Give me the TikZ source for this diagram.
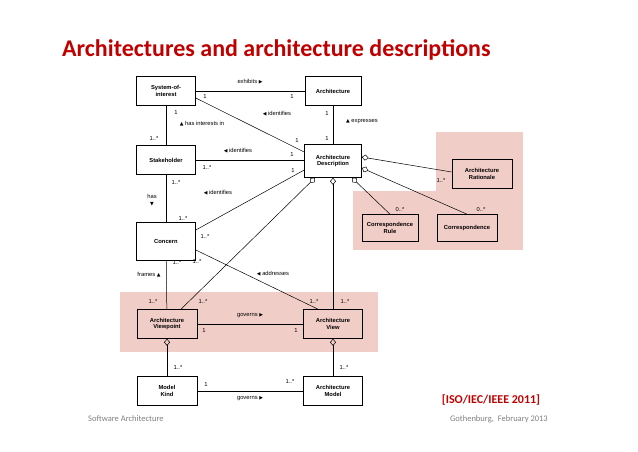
\documentclass[tikz,border=0pt]{standalone}
\usepackage{fontspec}
\setmainfont{Carlito}
\newfontfamily\diagfont{Liberation Sans}
\newfontfamily\symfont{DejaVu Sans}
\usetikzlibrary{arrows.meta}
\definecolor{slidered}{RGB}{192,0,0}
\definecolor{pinkband}{RGB}{241,205,200}
\newcommand{\tri}[1]{{\symfont\fontsize{4.8}{5}\selectfont #1}}

\begin{document}
\begin{tikzpicture}[x=1pt,y=-1pt,
    cls/.style={draw,fill=white,line width=0.6pt,minimum width=59pt,minimum height=29pt,
      align=center,font=\diagfont\bfseries\fontsize{5.8}{6.8}\selectfont,inner sep=1pt},
    pcls/.style={cls,fill=none},
    lbl/.style={font=\diagfont\fontsize{5.8}{6.8}\selectfont,inner sep=0pt},
    assoc/.style={line width=0.5pt},
    aggr/.style={line width=0.5pt,{Diamond[open,length=7pt,width=6pt]}-}]
  \useasboundingbox (0,0) rectangle (638,451);
  % pink areas
  \fill[pinkband] (120,292) rectangle (378,352);
  \fill[pinkband] (436,132) rectangle (523,250);
  \fill[pinkband] (353,191) rectangle (523,250);
  % title and footer
  \node[anchor=west,text=slidered,font=\bfseries\fontsize{24}{28}\selectfont,inner sep=0pt] (title) at (62,50) {Architectures and architecture descriptions};
  \node[text=slidered,font=\bfseries\fontsize{12}{14}\selectfont,inner sep=0pt] (ref) at (491,400) {[ISO/IEC/IEEE 2011]};
  \node[anchor=west,text=gray,font=\fontsize{8.5}{10}\selectfont,inner sep=0pt] (footl) at (88,419) {Software Architecture};
  \node[anchor=east,text=gray,font=\fontsize{8.5}{10}\selectfont,inner sep=0pt] (footr) at (548,419) {Gothenburg,\ \ February 2013};
  % classes
  \node[cls] (soi) at (166,91) {System-of-\\interest};
  \node[cls,minimum width=56pt] (arch) at (333,91) {Architecture};
  \node[cls] (stake) at (166,160) {Stakeholder};
  \node[cls,minimum width=57pt,minimum height=33pt] (ad) at (333,161) {Architecture\\Description};
  \node[cls,minimum height=38pt] (concern) at (166,241) {Concern};
  \node[pcls,minimum width=60pt] (vp) at (167,324) {Architecture\\Viewpoint};
  \node[pcls] (view) at (333,324) {Architecture\\View};
  \node[cls,minimum width=60pt] (mk) at (167,391) {Model\\Kind};
  \node[cls] (am) at (333,391) {Architecture\\Model};
  \node[pcls,minimum width=60pt] (rat) at (482,174) {Architecture\\Rationale};
  \node[pcls,minimum width=56pt,minimum height=27pt] (crule) at (390,228) {Correspondence\\Rule};
  \node[pcls,minimum width=60pt,minimum height=27pt] (corr) at (467,228) {Correspondence};
  % associations
  \draw[assoc] (soi.east) -- (arch.west);
  \draw[assoc] (soi.east |- 0,98) -- (ad.west |- 0,152);
  \draw[assoc] (arch) -- (ad);
  \draw[assoc] (soi) -- (stake);
  \draw[assoc] (stake) -- (ad.west |- stake);
  \draw[assoc] (stake) -- (concern);
  \draw[assoc] (concern.east |- 0,230) -- (ad.west |- 0,170);
  \draw[assoc] (concern.east |- 0,250) -- (view.north west -| 318,0);
  \draw[assoc] (concern) -- (vp);
  \draw[assoc] (vp) -- (view);
  \draw[assoc] (mk) -- (am);
  % aggregations
  \draw[aggr] (ad.south -| 315,0) -- (vp.north -| 181,0);
  \draw[aggr] (ad.south) -- (view.north);
  \draw[aggr] (ad.south -| 352,0) -- (crule.north);
  \draw[aggr] (ad.east |- 0,157) -- (rat.west |- 0,172);
  \draw[aggr] (ad.east |- 0,168) -- (corr.north);
  \draw[aggr] (vp) -- (mk);
  \draw[aggr] (view) -- (am);
  % labels
  \node[lbl] (l1) at (250,82) {exhibits \tri{▶}};
  \node[lbl] at (205,96) {1};
  \node[lbl] at (292,96) {1};
  \node[lbl] (l2) at (277,114) {\tri{◀} identifies};
  \node[lbl] at (297,140) {1};
  \node[lbl] at (327,113) {1};
  \node[lbl] at (327,138) {1};
  \node[lbl] (l3) at (362,122) {\tri{▲} expresses};
  \node[lbl] at (176,112) {1};
  \node[lbl] at (154,138) {1..*};
  \node[lbl] (l4) at (202,124) {\tri{▲} has interests in};
  \node[lbl] (l5) at (238,151) {\tri{◀} identifies};
  \node[lbl] at (207,167) {1..*};
  \node[lbl] at (292,154) {1};
  \node[lbl] at (176,182) {1..*};
  \node[lbl,align=center] (l6) at (152,200) {has\\\tri{▼}};
  \node[lbl] (l7) at (218,193) {\tri{◀} identifies};
  \node[lbl] at (183,218) {1..*};
  \node[lbl] at (205,236) {1..*};
  \node[lbl] at (293,170) {1};
  \node[lbl] at (177,262) {1..*};
  \node[lbl] at (197,261) {1..*};
  \node[lbl] (l8) at (149,275) {frames \tri{▲}};
  \node[lbl] (l9) at (273,274) {\tri{◀} addresses};
  \node[lbl] at (153,301) {1..*};
  \node[lbl] at (203,301) {1..*};
  \node[lbl] at (314,301) {1..*};
  \node[lbl] at (345,301) {1..*};
  \node[lbl] (l10) at (250,316) {governs \tri{▶}};
  \node[lbl] at (204,330) {1};
  \node[lbl] at (296,330) {1};
  \node[lbl] at (178,367) {1..*};
  \node[lbl] at (344,367) {1..*};
  \node[lbl] at (206,384) {1};
  \node[lbl] at (290,381) {1..*};
  \node[lbl] (l11) at (250,399) {governs \tri{▶}};
  \node[lbl] at (441,180) {1..*};
  \node[lbl] at (400,209) {0..*};
  \node[lbl] at (481,209) {0..*};
\end{tikzpicture}
\end{document}
